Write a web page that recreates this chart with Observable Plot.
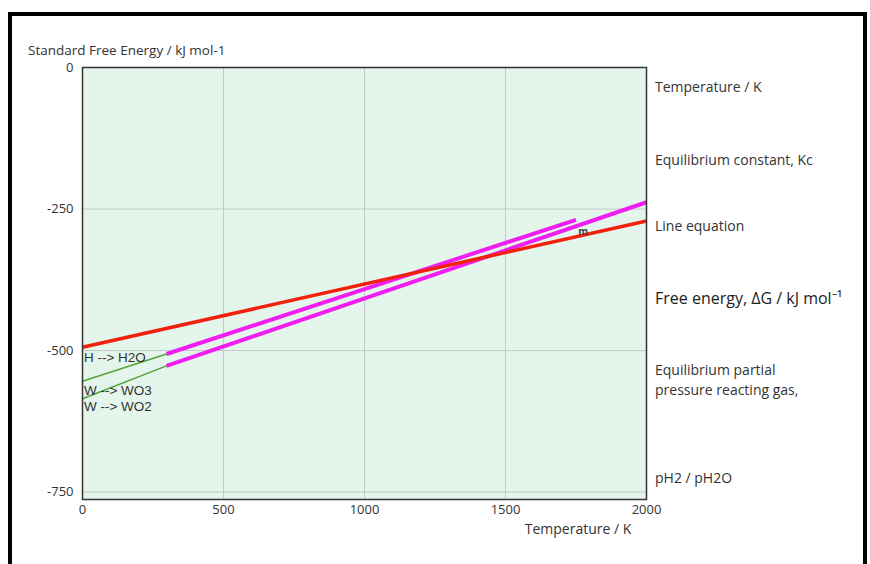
<!DOCTYPE html>
<html><head><meta charset="utf-8">
<script src="https://cdn.jsdelivr.net/npm/d3@7"></script>
<script src="https://cdn.jsdelivr.net/npm/@observablehq/plot@0.6"></script>
<style>
body{margin:0;background:#fff;font-family:"Open Sans",sans-serif;}
#wrap{position:relative;width:870px;height:564px;overflow:hidden;background:#fff;}
#border{position:absolute;left:8px;top:12px;width:859px;height:600px;border:4px solid #000;box-sizing:border-box;}
#chart{position:absolute;left:0;top:0;}
.lab{position:absolute;font-size:14px;color:#333;white-space:nowrap;line-height:1;transform:translateY(-50%);}
.ytitle{font-size:13.5px;}
.big{font-size:16px;color:#222;}
</style></head><body>
<div id="wrap"><div id="border"></div><div id="chart"></div></div>
<script>
// Data
const h2oT = [0, 2000];
const h2oG = [-494, -271];
const wo3T = [0, 298, 1750];
const wo3G = [-554, -506, -269];
const wo2T = [0, 298, 2000];
const wo2G = [-585, -527, -238];
const reactionLabels = ["H --> H2O", "W --> WO3", "W --> WO2"];
const reactionLabelT = [5, 5, 5];
const reactionLabelG = [-512, -570, -599];
const markerLabel = ["m"];
const markerT = [1775];
const markerG = [-290];
const xTicks = [0, 500, 1000, 1500, 2000];
const yTicks = [0, -250, -500, -750];
const yTitle = "Standard Free Energy / kJ mol-1";
const xTitle = "Temperature / K";
const sideNotes = ["Temperature / K", "Equilibrium constant, Kc", "Line equation", "Free energy, \u0394G / kJ mol\u207B\u00B9", "Equilibrium partial", "pressure reacting gas,", "pH2 / pH2O"];

const pts = (T, G) => T.map((t, i) => ({T: t, G: G[i]}));
const red = pts(h2oT, h2oG);
const wo3 = pts(wo3T, wo3G);
const wo2 = pts(wo2T, wo2G);
const labels = reactionLabels.map((s, i) => ({s, T: reactionLabelT[i], G: reactionLabelG[i]}));
const marks = markerLabel.map((s, i) => ({s, T: markerT[i], G: markerG[i]}));

const chart = Plot.plot({
  width: 870, height: 564,
  marginLeft: 82, marginRight: 224, marginTop: 67, marginBottom: 65,
  style: {fontFamily: "'Open Sans', sans-serif", fontSize: "13px", color: "#333", background: "transparent"},
  x: {domain: [0, 2000]},
  y: {domain: [-763, 0]},
  marks: [
    Plot.frame({fill: "#e4f6ec"}),
    Plot.ruleX(xTicks.slice(1, -1), {stroke: "#c4c9c6", strokeWidth: 1}),
    Plot.ruleY(yTicks.slice(1), {stroke: "#c4c9c6", strokeWidth: 1}),
    Plot.axisX({ticks: xTicks, tickSize: 0, tickPadding: 5, label: null, fill: "#333", tickFormat: d => String(d)}),
    Plot.axisY({ticks: yTicks, tickSize: 0, tickPadding: 9, label: null, fill: "#333", tickFormat: d => String(d)}),
    Plot.line(wo3.slice(0, 2), {x: "T", y: "G", stroke: "#55a23a", strokeWidth: 1.5}),
    Plot.line(wo2.slice(0, 2), {x: "T", y: "G", stroke: "#55a23a", strokeWidth: 1.5}),
    Plot.line(wo3.slice(1), {x: "T", y: "G", stroke: "#f01ef0", strokeWidth: 4, strokeLinecap: "butt"}),
    Plot.line(wo2.slice(1), {x: "T", y: "G", stroke: "#f01ef0", strokeWidth: 4, strokeLinecap: "butt"}),
    Plot.line(red, {x: "T", y: "G", stroke: "#f2200c", strokeWidth: 3.5, strokeLinecap: "butt"}),
    Plot.text(labels, {x: "T", y: "G", text: "s", textAnchor: "start", fill: "#333", fontSize: 13.5, fontFamily: "'Liberation Sans', Arial, sans-serif"}),
    Plot.text(marks, {x: "T", y: "G", text: "s", fill: "#444", fontSize: 10, fontWeight: "bold"}),
    Plot.frame({stroke: "#333", strokeWidth: 1.5})
  ]
});
document.getElementById("chart").appendChild(chart);

const wrap = document.getElementById("wrap");
function addLabel(text, left, top, cls) {
  const d = document.createElement("div");
  d.className = "lab" + (cls ? " " + cls : "");
  d.textContent = text;
  d.style.left = left + "px";
  d.style.top = top + "px";
  wrap.appendChild(d);
  return d;
}
addLabel(yTitle, 28, 51, "ytitle");
const xl = addLabel(xTitle, 578, 529);
xl.style.transform = "translate(-50%,-50%)";
const noteY = [87, 160, 226, 298, 370, 390, 478];
sideNotes.forEach((s, i) => addLabel(s, 655, noteY[i], i === 3 ? "big" : ""));
</script>
</body></html>
